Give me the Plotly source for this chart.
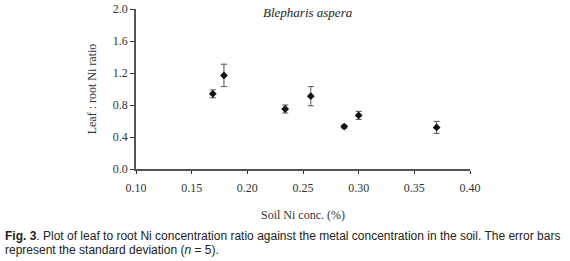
import plotly.graph_objects as go

soil_ni = [0.169, 0.179, 0.234, 0.257, 0.287, 0.300, 0.370]
ratio = [0.94, 1.17, 0.75, 0.91, 0.53, 0.67, 0.52]
sd = [0.05, 0.14, 0.05, 0.12, 0.02, 0.05, 0.075]

x_ticks = [0.10, 0.15, 0.20, 0.25, 0.30, 0.35, 0.40]
y_ticks = [0.0, 0.4, 0.8, 1.2, 1.6, 2.0]

serif = "Liberation Serif, Times New Roman, serif"
sans = "Liberation Sans, Arial, sans-serif"

L, R, T, B = 136, 100, 9, 92
W, H = 570, 261
plot_w = W - L - R
plot_h = H - T - B


def py(pixel_y):
    return (H - B - pixel_y) / plot_h


def px(pixel_x):
    return (pixel_x - L) / plot_w


fig = go.Figure()
fig.add_trace(go.Scatter(
    x=soil_ni, y=ratio, mode="markers",
    marker=dict(symbol="diamond", size=6, color="#111111"),
    error_y=dict(type="data", array=sd, visible=True, color="#555555",
                 thickness=1, width=3),
    showlegend=False, hoverinfo="skip",
))

fig.update_layout(
    width=W, height=H,
    margin=dict(l=L, r=R, t=T, b=B, autoexpand=False),
    paper_bgcolor="white", plot_bgcolor="white",
    font=dict(family=serif, size=12, color="#333333"),
    xaxis=dict(range=[0.10, 0.40], tickvals=x_ticks,
               ticktext=[f"{v:.2f}" for v in x_ticks],
               showline=True, linecolor="#555555", linewidth=1.5,
               ticks="outside", ticklen=3, tickcolor="#333333",
               ticklabelstandoff=4,
               showgrid=False, zeroline=False, automargin=False,
               title=dict(text="Soil Ni conc. (%)", standoff=16,
                          font=dict(family=serif, size=12))),
    yaxis=dict(range=[0, 2.0], tickvals=y_ticks,
               ticktext=[f"{v:.1f}" for v in y_ticks],
               showline=True, linecolor="#555555", linewidth=1.5,
               ticks="outside", ticklen=4, tickcolor="#333333",
               showgrid=False, zeroline=False, automargin=False,
               title=dict(text="Leaf : root Ni ratio", standoff=14,
                          font=dict(family=serif, size=12))),
)

fig.add_annotation(
    text="<i>Blepharis aspera</i>",
    x=px(308), xref="paper", y=py(12), yref="paper",
    yanchor="middle", showarrow=False,
    font=dict(family=serif, size=13, color="#222222"))
fig.add_annotation(
    text="<b>Fig. 3</b>. Plot of leaf to root Ni concentration ratio against the metal concentration in the soil. The error bars",
    x=px(3), xref="paper", y=py(227), yref="paper",
    xanchor="left", yanchor="top", showarrow=False,
    font=dict(family=sans, size=12, color="#222222"))
fig.add_annotation(
    text="represent the standard deviation (<i>n</i> = 5).",
    x=px(3), xref="paper", y=py(241), yref="paper",
    xanchor="left", yanchor="top", showarrow=False,
    font=dict(family=sans, size=12, color="#222222"))

fig.write_html("out.html", config={"displayModeBar": False},
               post_script="document.body.style.margin='0';document.body.style.overflow='hidden';")
